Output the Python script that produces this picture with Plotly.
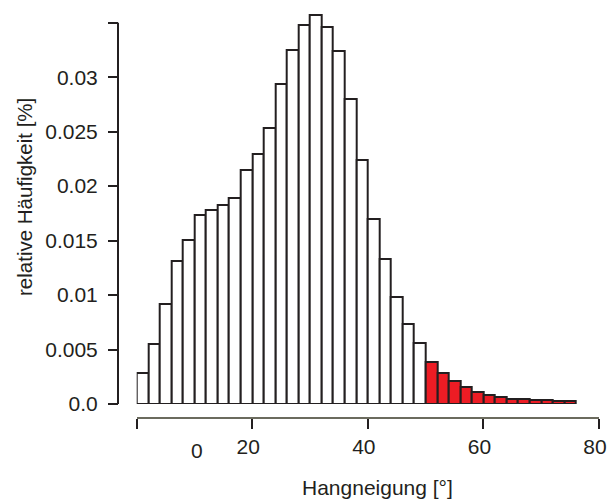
import plotly.graph_objects as go

# ---- data ----
bin_left = [0, 2, 4, 6, 8, 10, 12, 14, 16, 18, 20, 22, 24, 26, 28, 30, 32, 34, 36,
            38, 40, 42, 44, 46, 48, 50, 52, 54, 56, 58, 60, 62, 64, 66, 68, 70, 72, 74]
bin_width = 2
rel_freq = [0.00287, 0.00549, 0.00922, 0.01312, 0.01508, 0.01731, 0.01783, 0.01825,
            0.01893, 0.02152, 0.02296, 0.02534, 0.02937, 0.03248, 0.03477, 0.03571,
            0.03462, 0.03242, 0.02799, 0.02244, 0.01697, 0.01328, 0.00980, 0.00733,
            0.00559, 0.00388, 0.00281, 0.00214, 0.00153, 0.00113, 0.00085, 0.00060,
            0.00046, 0.00046, 0.00037, 0.00037, 0.00027, 0.00027]
threshold = 50

x_tickvals = [0, 20, 40, 60, 80]
x_ticktext = ["", "20", "40", "60", "80"]
y_tickvals = [0, 0.005, 0.01, 0.015, 0.02, 0.025, 0.03, 0.035]
y_ticktext = ["0.0", "0.005", "0.01", "0.015", "0.02", "0.025", "0.03", ""]

# ---- style ----
INK = "#231f20"
RED = "#ed1c24"
AXGRAY = "#6b6b5e"
FONT = "Liberation Sans, Arial, sans-serif"

W, H = 608, 500
ML, MR, MT, MB = 118, 9, 10, 82
plot_w = W - ML - MR
plot_h = H - MT - MB
x_dom0 = 18.7 / plot_w
y_dom0 = 14 / plot_h
Y_TOP = 0.03617
y_axis_top = 0.035

centers = [b + bin_width / 2 for b in bin_left]
colors = [RED if b >= threshold else "white" for b in bin_left]

fig = go.Figure()
fig.add_trace(go.Bar(
    x=centers, y=rel_freq, width=bin_width,
    marker=dict(color=colors, line=dict(color=INK, width=2)),
    hoverinfo="x+y", showlegend=False,
))

fig.update_layout(
    template="none",
    width=W, height=H,
    margin=dict(l=ML, r=MR, t=MT, b=MB, autoexpand=False),
    paper_bgcolor="white", plot_bgcolor="white",
    font=dict(family=FONT, color=INK),
    bargap=0,
    xaxis=dict(
        domain=[x_dom0, 1], range=[0, 80], anchor="free", position=0,
        automargin=False, ticklabeloverflow="allow", ticklabelshift=-4,
        showgrid=False, zeroline=False,
        showline=True, linecolor=AXGRAY, linewidth=2,
        ticks="outside", ticklen=10, tickwidth=2, tickcolor=INK,
        tickvals=x_tickvals, ticktext=x_ticktext,
        tickfont=dict(size=21, color=INK),
    ),
    yaxis=dict(
        domain=[y_dom0, 1], range=[0, Y_TOP], anchor="free", position=0,
        automargin=False, ticklabeloverflow="allow",
        showgrid=False, zeroline=False, showline=False,
        ticks="outside", ticklen=10, tickwidth=2, tickcolor=INK,
        tickvals=y_tickvals, ticktext=y_ticktext,
        tickfont=dict(size=21, color=INK),
        ticklabelstandoff=6,
    ),
)

# y axis line from 0 to 0.035 (offset axis style)
y_line_top = y_dom0 + (1 - y_dom0) * y_axis_top / Y_TOP
fig.add_shape(type="line", xref="paper", yref="paper",
              x0=0, x1=0, y0=y_dom0, y1=y_line_top,
              line=dict(color=INK, width=2))

# displaced "0" tick label
fig.add_annotation(x=10.5, xref="x", y=(418 - 450.5) / plot_h, yref="paper",
                   text="0", showarrow=False, font=dict(size=21, color=INK),
                   yanchor="middle", xanchor="center")
# axis titles
fig.add_annotation(x=(377 - ML) / plot_w, xref="paper", y=(418 - 487) / plot_h, yref="paper",
                   text="Hangneigung [°]", showarrow=False,
                   font=dict(size=21, color=INK), xanchor="center", yanchor="middle")
fig.add_annotation(x=(24 - ML) / plot_w, xref="paper", y=(418 - 197) / plot_h, yref="paper",
                   text="relative Häufigkeit [%]", textangle=-90, showarrow=False,
                   font=dict(size=20.5, color=INK), xanchor="center", yanchor="middle")

fig.write_html("out.html", config={"displayModeBar": False},
               post_script="document.body.style.margin='0';document.body.style.overflow='hidden';")
